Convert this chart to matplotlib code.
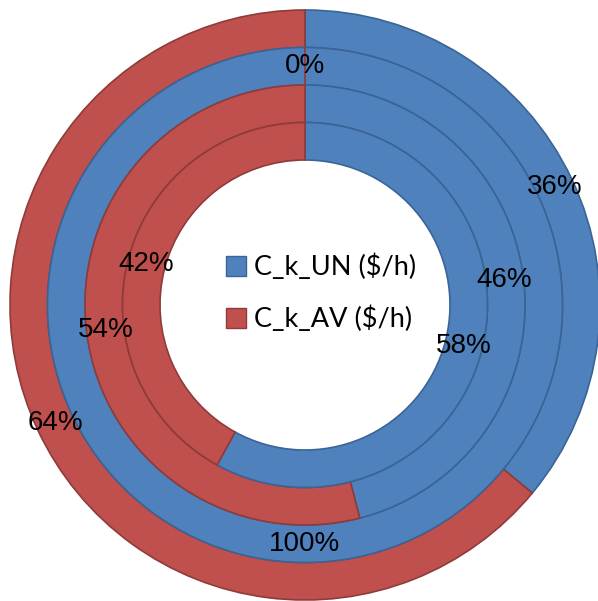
import matplotlib.pyplot as plt
from matplotlib.patches import Patch

# share of each cost in every ring, outer ring first
series = ['C_k_UN ($/h)', 'C_k_AV ($/h)']
rings = [
    [36, 64],
    [100, 0],
    [46, 54],
    [58, 42],
]

colors = ['#4F81BD', '#C0504D']
edges = ['#3A6496', '#8E3B39']

fig = plt.figure(figsize=(5.98, 6.01), dpi=100)
ax = fig.add_axes([0, 0, 1, 1])

outer = 295.0
width = 37.5
for i, vals in enumerate(rings):
    r = outer - i * width
    wedges, texts = ax.pie(vals, radius=r, startangle=90, counterclock=False,
                           colors=colors, labels=[f'{v}%' for v in vals],
                           labeldistance=(r - width / 2) / r,
                           wedgeprops=dict(width=width, linewidth=1.2),
                           textprops=dict(fontsize=20, family='Liberation Sans',
                                          ha='center', va='center'))
    for w, ec in zip(wedges, edges):
        w.set_edgecolor(ec)

# place the centre where the rings sit, one data unit per pixel
cx, cy = 305, 601 - 305
ax.set_xlim(-cx, 598 - cx)
ax.set_ylim(-cy, 601 - cy)
ax.set_aspect('auto')
ax.axis('off')

handles = [Patch(facecolor=c, edgecolor=e, linewidth=1) for c, e in zip(colors, edges)]
ax.legend(handles, series, loc='center', bbox_to_anchor=(321 / 598, 1 - 293 / 601),
          frameon=False, handlelength=0.75, handleheight=0.75, handletextpad=0.3,
          labelspacing=0.95, prop=dict(family='Lato', size=19.5))

fig.savefig('out.png', dpi=100)
